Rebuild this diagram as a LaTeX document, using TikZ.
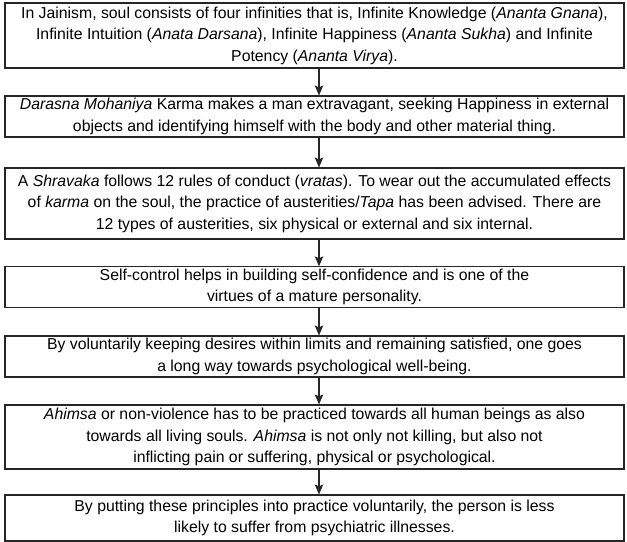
\documentclass[tikz,border=0pt]{standalone}
\usepackage{fontspec}
\setmainfont{Liberation Sans}
\usepackage{tikz}
\usetikzlibrary{arrows.meta}
\tikzset{%
  infobox/.style = {shape=rectangle, draw=black!85, line width=1.1bp,%
                    align=center, minimum width=619bp,%
                    inner xsep=2bp, inner ysep=2bp,%
                    font=\fontsize{15.8bp}{21.5bp}\selectfont},%
  flow/.style    = {draw=black!85, line width=1.1bp,%
                    -{Stealth[length=10bp,width=8.5bp,inset=2bp]}}%
}

\begin{document}
\begin{tikzpicture}[x=1bp,y=-1bp]
	\useasboundingbox (0,0) rectangle (627,542);
	\node [infobox, minimum height=65bp] (soul) at (314.5,35.5)
		{In Jainism, soul consists of four infinities that is, Infinite Knowledge (\textit{Ananta Gnana}),\\
		 Infinite Intuition (\textit{Anata Darsana}), Infinite Happiness (\textit{Ananta Sukha}) and Infinite\\
		 Potency (\textit{Ananta Virya}).};
	\node [infobox, minimum height=41bp] (karma) at (314.5,116.5)
		{\textit{Darasna Mohaniya} Karma makes a man extravagant, seeking Happiness in external\\
		 objects and identifying himself with the body and other material thing.};
	\node [infobox, minimum height=71bp] (shravaka) at (314.5,203.5)
		{A \textit{Shravaka} follows 12 rules of conduct (\textit{vratas}). To wear out the accumulated effects\\
		 of \textit{karma} on the soul, the practice of austerities/\textit{Tapa} has been advised. There are\\
		 12 types of austerities, six physical or external and six internal.};
	\node [infobox, minimum height=40bp] (selfctrl) at (314.5,287)
		{Self-control helps in building self-confidence and is one of the\\
		 virtues of a mature personality.};
	\node [infobox, minimum height=41bp] (desires) at (314.5,356.5)
		{By voluntarily keeping desires within limits and remaining satisfied, one goes\\
		 a long way towards psychological well-being.};
	\node [infobox, minimum height=64bp] (ahimsa) at (314.5,437)
		{\textit{Ahimsa} or non-violence has to be practiced towards all human beings as also\\
		 towards all living souls. \textit{Ahimsa} is not only not killing, but also not\\
		 inflicting pain or suffering, physical or psychological.};
	\node [infobox, minimum height=46bp] (practice) at (314.5,518)
		{By putting these principles into practice voluntarily, the person is less\\
		 likely to suffer from psychiatric illnesses.};
	% arrows sit a little right of the middle
	\draw [flow] ([xshift=4.5bp]soul.south) -- ([xshift=4.5bp]karma.north);
	\draw [flow] ([xshift=4.5bp]karma.south) -- ([xshift=4.5bp]shravaka.north);
	\draw [flow] ([xshift=4.5bp]shravaka.south) -- ([xshift=4.5bp]selfctrl.north);
	\draw [flow] ([xshift=4.5bp]selfctrl.south) -- ([xshift=4.5bp]desires.north);
	\draw [flow] ([xshift=4.5bp]desires.south) -- ([xshift=4.5bp]ahimsa.north);
	\draw [flow] ([xshift=4.5bp]ahimsa.south) -- ([xshift=4.5bp]practice.north);
\end{tikzpicture}
\end{document}
